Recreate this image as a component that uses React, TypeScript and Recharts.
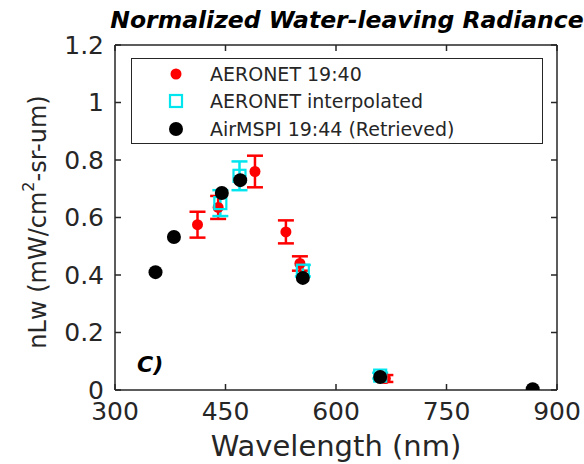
import { ErrorBar, Legend, Scatter, ScatterChart, XAxis, YAxis } from "recharts";

const FONT = "'DejaVu Sans', sans-serif";
const INK = "#262626";

// AERONET 19:40 (red, with error bars)
const aeronetWl = [412, 440, 490, 532, 551, 667];
const aeronetNlw = [0.575, 0.635, 0.76, 0.55, 0.44, 0.04];
const aeronetErr = [0.045, 0.04, 0.055, 0.04, 0.025, 0.012];

// AERONET interpolated (cyan squares)
const interpWl = [443, 469, 555, 660];
const interpNlw = [0.65, 0.745, 0.415, 0.05];
const interpErr = [0.045, 0.05, 0.02, 0.01];

// AirMSPI 19:44 retrieved (black)
const airWl = [355, 380, 445, 470, 555, 660, 867];
const airNlw = [0.41, 0.532, 0.685, 0.73, 0.39, 0.045, 0.003];

const xTicks = [300, 450, 600, 750, 900];
const yTicks = [0, 0.2, 0.4, 0.6, 0.8, 1, 1.2];

const aeronet = aeronetWl.map((x, i) => ({ x, y: aeronetNlw[i], err: aeronetErr[i] }));
const interp = interpWl.map((x, i) => ({ x, y: interpNlw[i], err: interpErr[i] }));
const air = airWl.map((x, i) => ({ x, y: airNlw[i] }));

const RedDot = (p: any) => <circle cx={p.cx} cy={p.cy} r={5.5} fill="#ff0000" />;
const CyanSquare = (p: any) => (
  <rect x={p.cx - 6} y={p.cy - 6} width={12} height={12} fill="none" stroke="#00e5ee" strokeWidth={2.2} />
);
const BlackDot = (p: any) => <circle cx={p.cx} cy={p.cy} r={7} fill="#000" />;

const legendItems = [
  { label: "AERONET 19:40", kind: "red" },
  { label: "AERONET interpolated", kind: "cyan" },
  { label: "AirMSPI 19:44 (Retrieved)", kind: "black" },
];

function LegendBox() {
  return (
    <div
      style={{
        width: 412,
        height: 86,
        border: `1.5px solid ${INK}`,
        background: "#fff",
        fontFamily: FONT,
        fontSize: 19,
        color: INK,
        boxSizing: "border-box",
        paddingTop: 1,
      }}
    >
      {legendItems.map((it) => (
        <div key={it.label} style={{ display: "flex", alignItems: "center", height: 27.5 }}>
          <svg width={78} height={20}>
            {it.kind === "red" && <circle cx={44} cy={10} r={5.5} fill="#ff0000" />}
            {it.kind === "cyan" && (
              <rect x={38} y={4} width={12} height={12} fill="none" stroke="#00e5ee" strokeWidth={2.2} />
            )}
            {it.kind === "black" && <circle cx={44} cy={10} r={7} fill="#000" />}
          </svg>
          <span>{it.label}</span>
        </div>
      ))}
    </div>
  );
}

const YLabel = () => {
  const cx = 38;
  const cy = 222;
  return (
    <text
      x={cx}
      y={cy}
      transform={`rotate(-90, ${cx}, ${cy})`}
      textAnchor="middle"
      dominantBaseline="central"
      fontFamily={FONT}
      fontSize={24}
      fill={INK}
    >
      nLw (mW/cm
      <tspan dy={-10} fontSize={16}>
        2
      </tspan>
      <tspan dy={10}>-sr-um)</tspan>
    </text>
  );
};

const XLabel = (props: any) => {
  const vb = props.viewBox;
  return (
    <text x={vb.x + vb.width / 2} y={vb.y + 66} textAnchor="middle" fontFamily={FONT} fontSize={29} fill={INK}>
      Wavelength (nm)
    </text>
  );
};

export default function App() {
  return (
    <div style={{ position: "absolute", left: 0, top: 0, width: 584, height: 464, background: "#fff" }}>
      <ScatterChart width={584} height={464} margin={{ top: 44, right: 26, left: 0, bottom: 0 }}>
        <XAxis
          xAxisId="b"
          type="number"
          dataKey="x"
          domain={[300, 900]}
          ticks={xTicks}
          allowDataOverflow
          height={74}
          tickSize={-6}
          tickMargin={18}
          stroke={INK}
          strokeWidth={1.5}
          tick={{ fill: INK, fontSize: 25, fontFamily: FONT }}
          label={<XLabel />}
        />
        <XAxis
          xAxisId="t"
          orientation="top"
          type="number"
          dataKey="x"
          domain={[300, 900]}
          ticks={xTicks}
          allowDataOverflow
          height={1}
          tickSize={-6}
          stroke={INK}
          strokeWidth={1.5}
          tickFormatter={() => ""}
        />
        <YAxis
          yAxisId="l"
          type="number"
          dataKey="y"
          domain={[0, 1.2]}
          ticks={yTicks}
          allowDataOverflow
          width={115}
          tickSize={-6}
          tickMargin={17}
          stroke={INK}
          strokeWidth={1.5}
          tick={{ fill: INK, fontSize: 25, fontFamily: FONT }}
          label={<YLabel />}
        />
        <YAxis
          yAxisId="r"
          orientation="right"
          type="number"
          dataKey="y"
          domain={[0, 1.2]}
          ticks={yTicks}
          allowDataOverflow
          width={1}
          tickSize={-6}
          stroke={INK}
          strokeWidth={1.5}
          tickFormatter={() => ""}
        />
        <Scatter xAxisId="b" yAxisId="l" data={aeronet} shape={RedDot} isAnimationActive={false}>
          <ErrorBar dataKey="err" direction="y" width={8} stroke="#ff0000" strokeWidth={2.5} isAnimationActive={false} />
        </Scatter>
        <Scatter xAxisId="b" yAxisId="l" data={interp} shape={CyanSquare} isAnimationActive={false}>
          <ErrorBar dataKey="err" direction="y" width={8} stroke="#00e5ee" strokeWidth={2.5} isAnimationActive={false} />
        </Scatter>
        <Scatter xAxisId="b" yAxisId="l" data={air} shape={BlackDot} isAnimationActive={false} />
        <Legend
          layout="horizontal"
          verticalAlign="middle"
          align="center"
          content={() => <LegendBox />}
          wrapperStyle={{ left: 131, top: 58, width: 412, height: 86 }}
        />
      </ScatterChart>
      <svg width={584} height={464} style={{ position: "absolute", left: 0, top: 0, pointerEvents: "none" }}>
        <text x={347} y={28} textAnchor="middle" fontFamily={FONT} fontSize={23.5} fontWeight="bold" fontStyle="italic" fill="#000">
          Normalized Water-leaving Radiance
        </text>
        <text x={137} y={372} fontFamily={FONT} fontSize={22} fontWeight="bold" fontStyle="italic" fill="#000">
          C)
        </text>
      </svg>
    </div>
  );
}
